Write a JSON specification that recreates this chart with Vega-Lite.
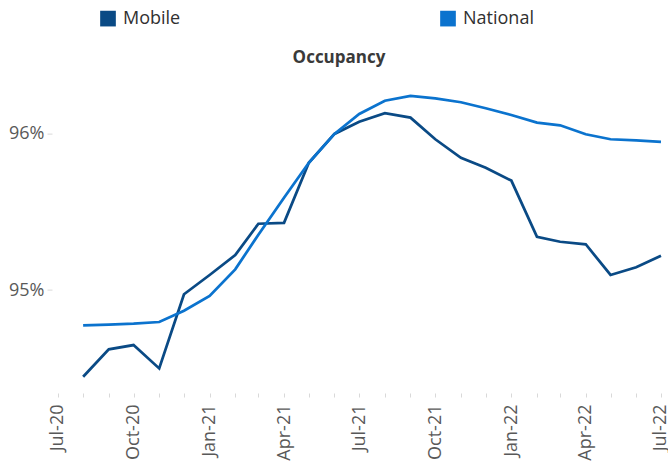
{
  "$schema": "https://vega.github.io/schema/vega-lite/v6.json",
  "autosize": "none",
  "width": 616,
  "height": 322.4,
  "padding": {"left": 52, "top": 70.6, "right": 0, "bottom": 70},
  "background": "white",
  "config": {
    "view": {"stroke": null},
    "font": "Open Sans"
  },
  "title": {
    "text": "Occupancy",
    "anchor": "middle",
    "dx": -21,
    "dy": 60,
    "offset": 3,
    "font": "Open Sans",
    "fontSize": 17,
    "fontWeight": "bold",
    "color": "#3a3a3a"
  },
  "data": {
    "values": [
      {"date": "2020-08-01", "series": "Mobile", "value": 0.94447},
      {"date": "2020-09-01", "series": "Mobile", "value": 0.94622},
      {"date": "2020-10-01", "series": "Mobile", "value": 0.94649},
      {"date": "2020-11-01", "series": "Mobile", "value": 0.94500},
      {"date": "2020-12-01", "series": "Mobile", "value": 0.94973},
      {"date": "2021-01-01", "series": "Mobile", "value": 0.95096},
      {"date": "2021-02-01", "series": "Mobile", "value": 0.95223},
      {"date": "2021-03-01", "series": "Mobile", "value": 0.95423},
      {"date": "2021-04-01", "series": "Mobile", "value": 0.95429},
      {"date": "2021-05-01", "series": "Mobile", "value": 0.95812},
      {"date": "2021-06-01", "series": "Mobile", "value": 0.95996},
      {"date": "2021-07-01", "series": "Mobile", "value": 0.96074},
      {"date": "2021-08-01", "series": "Mobile", "value": 0.96128},
      {"date": "2021-09-01", "series": "Mobile", "value": 0.96100},
      {"date": "2021-10-01", "series": "Mobile", "value": 0.95962},
      {"date": "2021-11-01", "series": "Mobile", "value": 0.95844},
      {"date": "2021-12-01", "series": "Mobile", "value": 0.95780},
      {"date": "2022-01-01", "series": "Mobile", "value": 0.95698},
      {"date": "2022-02-01", "series": "Mobile", "value": 0.95340},
      {"date": "2022-03-01", "series": "Mobile", "value": 0.95308},
      {"date": "2022-04-01", "series": "Mobile", "value": 0.95292},
      {"date": "2022-05-01", "series": "Mobile", "value": 0.95096},
      {"date": "2022-06-01", "series": "Mobile", "value": 0.95145},
      {"date": "2022-07-01", "series": "Mobile", "value": 0.95219},
      {"date": "2020-08-01", "series": "National", "value": 0.94775},
      {"date": "2020-09-01", "series": "National", "value": 0.94780},
      {"date": "2020-10-01", "series": "National", "value": 0.94786},
      {"date": "2020-11-01", "series": "National", "value": 0.94796},
      {"date": "2020-12-01", "series": "National", "value": 0.94868},
      {"date": "2021-01-01", "series": "National", "value": 0.94962},
      {"date": "2021-02-01", "series": "National", "value": 0.95132},
      {"date": "2021-03-01", "series": "National", "value": 0.95353},
      {"date": "2021-04-01", "series": "National", "value": 0.95589},
      {"date": "2021-05-01", "series": "National", "value": 0.95812},
      {"date": "2021-06-01", "series": "National", "value": 0.95996},
      {"date": "2021-07-01", "series": "National", "value": 0.96123},
      {"date": "2021-08-01", "series": "National", "value": 0.96208},
      {"date": "2021-09-01", "series": "National", "value": 0.96238},
      {"date": "2021-10-01", "series": "National", "value": 0.96223},
      {"date": "2021-11-01", "series": "National", "value": 0.96198},
      {"date": "2021-12-01", "series": "National", "value": 0.96160},
      {"date": "2022-01-01", "series": "National", "value": 0.96117},
      {"date": "2022-02-01", "series": "National", "value": 0.96068},
      {"date": "2022-03-01", "series": "National", "value": 0.96051},
      {"date": "2022-04-01", "series": "National", "value": 0.95994},
      {"date": "2022-05-01", "series": "National", "value": 0.95962},
      {"date": "2022-06-01", "series": "National", "value": 0.95955},
      {"date": "2022-07-01", "series": "National", "value": 0.95946}
    ]
  },
  "mark": {"type": "line", "strokeWidth": 2.75, "strokeJoin": "miter", "strokeCap": "butt"},
  "encoding": {
    "x": {
      "field": "date",
      "type": "temporal",
      "scale": {
        "type": "utc",
        "domain": [
          {"year": 2020, "month": 6, "date": 24, "hours": 8, "utc": true},
          {"year": 2022, "month": 7, "date": 9, "hours": 12, "utc": true}
        ]
      },
      "axis": {
        "title": null,
        "tickCount": {"interval": "month", "step": 1},
        "format": "%b-%y",
        "labelExpr": "utcmonth(datum.value) % 3 == 0 ? datum.label : ''",
        "labelAngle": -90,
        "labelAlign": "right",
        "labelBaseline": "middle",
        "labelFont": "Open Sans",
        "labelFontSize": 18,
        "labelColor": "#595959",
        "labelOverlap": false,
        "labelPadding": 7,
        "labelBound": false,
        "labelFlush": false,
        "domain": false,
        "grid": false,
        "ticks": true,
        "tickSize": 4,
        "tickColor": "#d9d9d9",
        "tickWidth": 1
      }
    },
    "y": {
      "field": "value",
      "type": "quantitative",
      "scale": {"domain": [0.94343, 0.964], "zero": false, "nice": false},
      "axis": {
        "title": null,
        "values": [0.95, 0.96],
        "format": ".0%",
        "labelFont": "Open Sans",
        "labelFontSize": 18,
        "labelColor": "#595959",
        "labelPadding": 3,
        "domain": false,
        "grid": false,
        "tickSize": 5,
        "tickColor": "#d9d9d9"
      }
    },
    "color": {
      "field": "series",
      "type": "nominal",
      "scale": {"domain": ["Mobile", "National"], "range": ["#0a4a85", "#0b73ce"]},
      "legend": {
        "title": null,
        "orient": "none",
        "legendX": 47,
        "legendY": -61,
        "direction": "horizontal",
        "columns": 2,
        "columnPadding": 258,
        "symbolType": "square",
        "symbolSize": 246,
        "symbolStrokeWidth": 0,
        "symbolOpacity": 1,
        "labelFont": "Open Sans",
        "labelFontSize": 18,
        "labelColor": "#303030",
        "labelOffset": 6,
        "labelLimit": 300,
        "encode": {
          "symbols": {"update": {"fill": {"scale": "color", "field": "value"}, "stroke": {"value": "transparent"}}}
        }
      }
    }
  }
}
